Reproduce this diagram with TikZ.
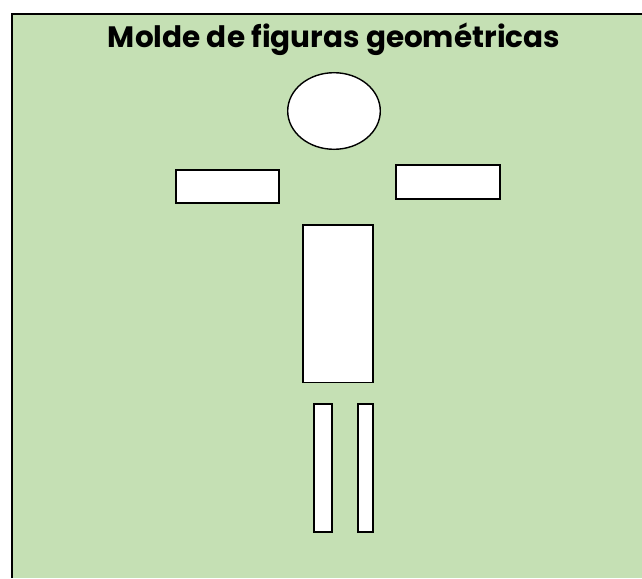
\documentclass[tikz,border=0pt]{standalone}
\usepackage{fontspec}
\setmainfont{Poppins}
\definecolor{bggreen}{HTML}{C5E0B4}
\begin{document}
\begin{tikzpicture}[x=1pt,y=-1pt,
  shapebox/.style={draw=black, fill=white, line width=1.4pt},
  frameline/.style={draw=black, line width=2.2pt}]
\useasboundingbox (0,0) rectangle (642,578);
\fill[white] (0,0) rectangle (642,578);
\fill[bggreen] (12,14) rectangle (642,578);
\draw[frameline] (12,578) -- (12,14) -- (642,14);
\node[anchor=base, inner sep=0pt] (title) at (334,48) {\resizebox{452pt}{!}{\bfseries Molde de figuras geométricas}};
% head
\draw[shapebox] (334,111) ellipse [x radius=46.3, y radius=38.3];
% arms
\draw[shapebox] (176,170) rectangle (279,203);
\draw[shapebox] (396,165) rectangle (500,199);
% body
\draw[shapebox] (303,225) rectangle (373,382.5);
% legs
\draw[shapebox] (314,404) rectangle (332,532);
\draw[shapebox] (358,404) rectangle (373,532);
\end{tikzpicture}
\end{document}
